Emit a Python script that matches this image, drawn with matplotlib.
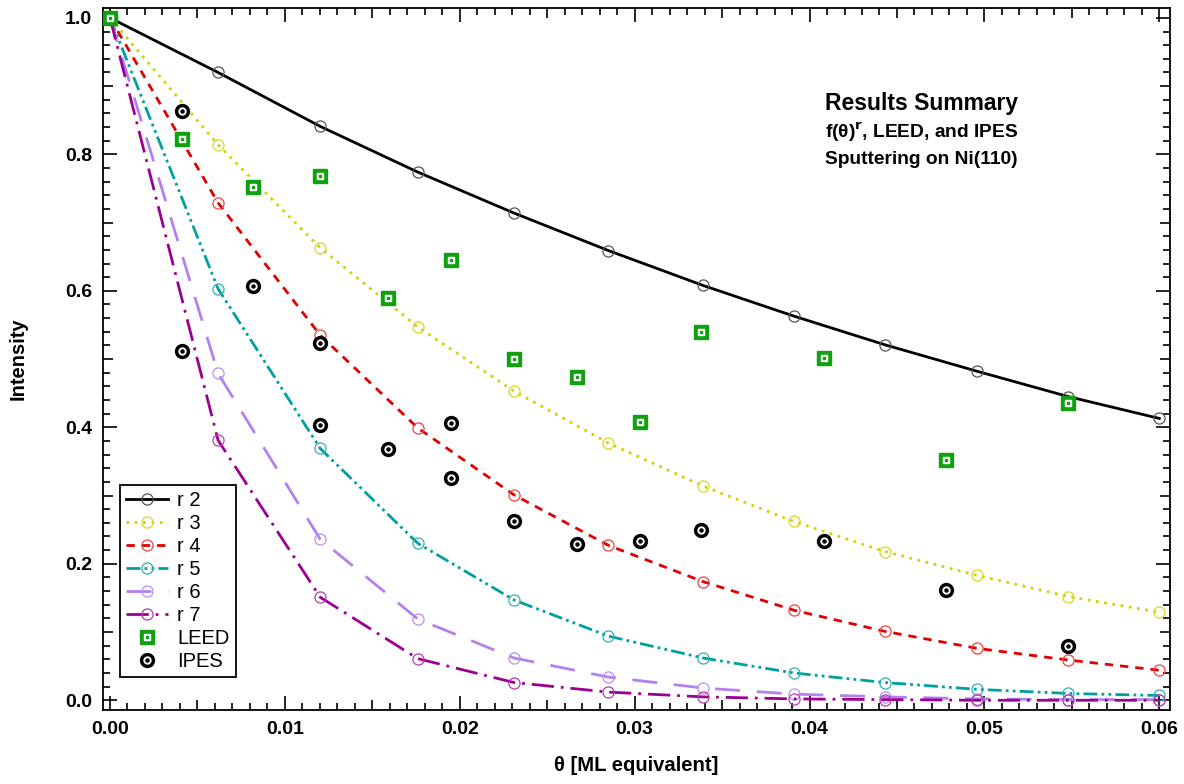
import matplotlib
matplotlib.use("Agg")
import matplotlib.pyplot as plt
from matplotlib.ticker import MultipleLocator
from matplotlib.lines import Line2D

plt.rcParams['font.family'] = ['Liberation Sans', 'DejaVu Sans']

# model curves f(theta)^r
theta = [0.0, 0.00618, 0.01202, 0.0176, 0.0231, 0.0285, 0.0339, 0.0391, 0.0443, 0.0496, 0.0548, 0.06]
r2 = [1.0, 0.920, 0.841, 0.774, 0.714, 0.659, 0.608, 0.563, 0.521, 0.482, 0.445, 0.413]
r3 = [1.0, 0.814, 0.663, 0.547, 0.453, 0.377, 0.314, 0.262, 0.218, 0.183, 0.152, 0.129]
r4 = [1.0, 0.729, 0.535, 0.399, 0.301, 0.227, 0.174, 0.132, 0.101, 0.076, 0.059, 0.044]
r5 = [1.0, 0.603, 0.369, 0.230, 0.147, 0.094, 0.062, 0.040, 0.026, 0.016, 0.010, 0.007]
r6 = [1.0, 0.479, 0.236, 0.119, 0.062, 0.034, 0.018, 0.009, 0.005, 0.002, 0.001, 0.001]
r7 = [1.0, 0.381, 0.151, 0.061, 0.026, 0.012, 0.005, 0.002, 0.001, 0.0, 0.0, 0.0]

# measurements
leed_x = [0.0, 0.0041, 0.0082, 0.0120, 0.0159, 0.0195, 0.0231, 0.0267, 0.0303, 0.0338, 0.0408, 0.0478, 0.0548]
leed_y = [1.0, 0.823, 0.752, 0.768, 0.589, 0.645, 0.500, 0.474, 0.408, 0.540, 0.501, 0.352, 0.435]
ipes_x = [0.0, 0.0041, 0.0041, 0.0082, 0.0120, 0.0120, 0.0159, 0.0195, 0.0195, 0.0231, 0.0267, 0.0303, 0.0338, 0.0408, 0.0478, 0.0548]
ipes_y = [1.0, 0.864, 0.512, 0.607, 0.523, 0.403, 0.368, 0.406, 0.325, 0.262, 0.229, 0.234, 0.249, 0.233, 0.161, 0.079]

curves = [
    ("r 2", r2, "black", "#555555", "-"),
    ("r 3", r3, "#d2d200", "#d8d820", (0, (1, 2))),
    ("r 4", r4, "#e00000", "#ee4444", (0, (3, 2.5))),
    ("r 5", r5, "#00a0a0", "#33b0b0", (0, (5, 1.5, 1, 1.5, 1, 1.5))),
    ("r 6", r6, "#b480f0", "#b890f0", (0, (9, 6))),
    ("r 7", r7, "#9c0090", "#b040a8", (0, (8, 2.5, 1, 2.5))),
]

fig = plt.figure(figsize=(11.84, 7.84), dpi=100)
ax = fig.add_axes([0.087, 0.094, 0.901, 0.896])

handles = []
for name, vals, col, mcol, ls in curves:
    h, = ax.plot(theta, vals, color=col, linestyle=ls, linewidth=2.0,
                 marker='o', markersize=8, markerfacecolor='none',
                 markeredgecolor=mcol, markeredgewidth=0.9, label=name)
    handles.append(h)

# IPES: black target
ax.plot(ipes_x, ipes_y, 'o', color='black', markersize=10, zorder=4)
ax.plot(ipes_x, ipes_y, 'o', color='white', markersize=5, zorder=5)
ax.plot(ipes_x, ipes_y, 'o', color='black', markersize=2.2, zorder=6)

# LEED: green square with white inner square
ax.plot(leed_x, leed_y, 's', color='#10a010', markersize=10, zorder=7)
ax.plot(leed_x, leed_y, 's', color='white', markersize=5, zorder=8)
ax.plot(leed_x, leed_y, 's', color='#10a010', markersize=2, zorder=9)

leed_h = (Line2D([], [], ls='none', marker='s', color='#10a010', markersize=10),
          Line2D([], [], ls='none', marker='s', color='white', markersize=5),
          Line2D([], [], ls='none', marker='s', color='#10a010', markersize=2))
ipes_h = (Line2D([], [], ls='none', marker='o', color='black', markersize=10),
          Line2D([], [], ls='none', marker='o', color='white', markersize=5),
          Line2D([], [], ls='none', marker='o', color='black', markersize=2.2))

leg = ax.legend(handles + [leed_h, ipes_h], [c[0] for c in curves] + ["LEED", "IPES"],
                loc='lower left', bbox_to_anchor=(0.016, 0.047), fontsize=14.5,
                handlelength=2.1, handletextpad=0.45, labelspacing=0.2,
                borderpad=0.3, borderaxespad=0, fancybox=False, framealpha=1,
                edgecolor='black')
leg.get_frame().set_linewidth(1.3)

ax.set_xlim(-0.0004, 0.0606)
ax.set_ylim(-0.0147, 1.0147)
ax.xaxis.set_major_locator(MultipleLocator(0.005))
ax.xaxis.set_minor_locator(MultipleLocator(0.001))
ax.yaxis.set_major_locator(MultipleLocator(0.1))
ax.yaxis.set_minor_locator(MultipleLocator(0.02))
ax.xaxis.set_major_formatter(lambda v, p: "%.2f" % v if round(v / 0.005) % 2 == 0 else "")
ax.yaxis.set_major_formatter(lambda v, p: "%.1f" % v if round(v / 0.1) % 2 == 0 else "")

ax.tick_params(which='both', direction='in', top=True, right=True, width=1.2)
ax.tick_params(which='major', length=10, labelsize=14, pad=8)
ax.tick_params(which='minor', length=5)
for s in ax.spines.values():
    s.set_linewidth(1.3)

fig.canvas.draw()
for axis, step in ((ax.xaxis, 0.005), (ax.yaxis, 0.1)):
    for t, v in zip(axis.get_major_ticks(), axis.get_majorticklocs()):
        if round(v / step) % 2 == 1:
            t.tick1line.set_markersize(7)
            t.tick2line.set_markersize(7)
for lab in ax.get_xticklabels() + ax.get_yticklabels():
    lab.set_fontweight('bold')

ax.set_xlabel("θ [ML equivalent]", fontsize=14.6, fontweight='bold', labelpad=13)
ax.set_ylabel("Intensity", fontsize=14.5, fontweight='bold', labelpad=27)

ax.text(0.677, 0.855, "Results Summary", transform=ax.transAxes,
        fontsize=16.5, fontweight='bold')
ax.text(0.677, 0.815, r"f(θ)$^{\mathbf{r}}$, LEED, and IPES", transform=ax.transAxes,
        fontsize=13.8, fontweight='bold')
ax.text(0.677, 0.777, "Sputtering on Ni(110)", transform=ax.transAxes,
        fontsize=13.8, fontweight='bold')

fig.savefig("out.png", dpi=100)
